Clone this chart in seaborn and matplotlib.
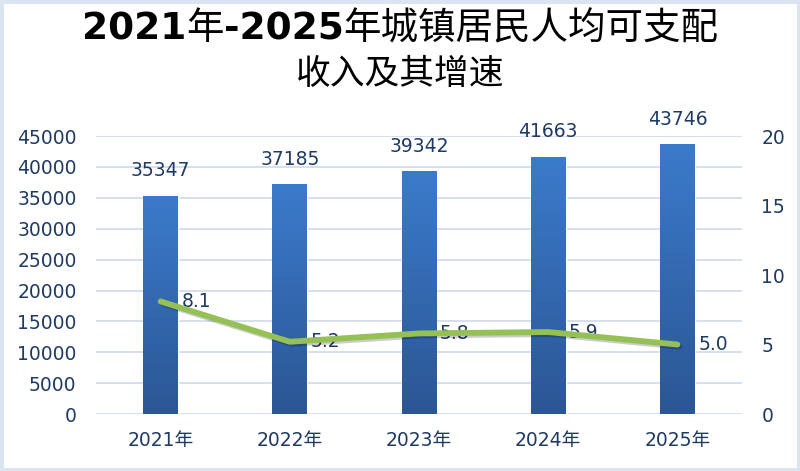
import numpy as np
import pandas as pd
import matplotlib
matplotlib.use("Agg")
import matplotlib.pyplot as plt
import matplotlib.patheffects as pe
from matplotlib.colors import LinearSegmentedColormap
from matplotlib.patches import Rectangle
import seaborn as sns

# data
years = ["2021年", "2022年", "2023年", "2024年", "2025年"]
income = [35347, 37185, 39342, 41663, 43746]
growth = [8.1, 5.2, 5.8, 5.9, 5.0]

sns.set_style("white")
plt.rcParams["font.family"] = ["DejaVu Sans", "Noto Sans CJK SC"]

navy = "#1f3a64"
grid_c = "#d3dcea"

df = pd.DataFrame({"year": years, "income": income, "growth": growth})

fig = plt.figure(figsize=(8, 4.71), dpi=100)
fig.patch.set_facecolor("white")
# light blue frame round the picture
fig.patches.append(Rectangle((0, 0), 1, 1, transform=fig.transFigure,
                             fill=False, edgecolor="#dbe5f1", linewidth=5, zorder=0))

ax = fig.add_axes([0.12, 0.121, 0.8075, 0.590])
sns.barplot(data=df, x="year", y="income", color="#3370bb", width=0.27,
            saturation=1, ax=ax, zorder=3)

# gradient fill on each bar
cmap = LinearSegmentedColormap.from_list("bar", ["#2b5694", "#3b7bcb"])
grad = np.linspace(0, 1, 256).reshape(-1, 1)
for p in ax.patches:
    x0, y0 = p.get_x(), p.get_y()
    w, h = p.get_width(), p.get_height()
    im = ax.imshow(grad, cmap=cmap, origin="lower", aspect="auto",
                   extent=[x0, x0 + w, y0, y0 + h], zorder=3.5)
    im.set_clip_path(p)
    ax.annotate(f"{int(h)}", (x0 + w / 2, h), xytext=(0, 11),
                textcoords="offset points", ha="center", va="bottom",
                fontsize=13.5, color=navy)

ax.set_xlim(-0.5, len(years) - 0.5)
ax.set_ylim(0, 45000)
ax.set_yticks(range(0, 45001, 5000))
ax.grid(axis="y", color=grid_c, linewidth=1.3, zorder=0)
ax.set_axisbelow(True)
for s in ax.spines.values():
    s.set_visible(False)
ax.set_xlabel("")
ax.set_ylabel("")
ax.tick_params(axis="both", length=0, labelsize=13.5, labelcolor=navy)
ax.tick_params(axis="y", pad=14)
ax.tick_params(axis="x", pad=12)

ax2 = ax.twinx()
pos = np.arange(len(years))
sns.lineplot(x=pos, y=growth, ax=ax2, color="#95c055", linewidth=4.2, zorder=5,
             path_effects=[pe.SimpleLineShadow(offset=(1.5, -1.5), alpha=0.2),
                           pe.Normal()])
for xi, g in zip(pos, growth):
    ax2.annotate(f"{g:.1f}", (xi, g), xytext=(15, 0), textcoords="offset points",
                 ha="left", va="center", fontsize=13.5, color=navy)
ax2.set_ylim(0, 20)
ax2.set_yticks([0, 5, 10, 15, 20])
for s in ax2.spines.values():
    s.set_visible(False)
ax2.tick_params(axis="y", length=0, labelsize=13.5, labelcolor=navy, pad=14)
ax2.set_ylabel("")

# title line 1: digits bold, Chinese characters regular weight
parts = [("2021", "bold"), ("年", "normal"), ("-2025", "bold"),
         ("年城镇居民人均可支配", "normal")]
renderer = fig.canvas.get_renderer()
texts = []
x = 0.0
for s, wgt in parts:
    t = fig.text(x, 0.938, s, ha="left", va="center", fontsize=27,
                 fontweight=wgt, color="black")
    bb = t.get_window_extent(renderer)
    texts.append(t)
    x += bb.width / fig.bbox.width
start = 0.5 - x / 2
x = start
for t in texts:
    t.set_x(x)
    x += t.get_window_extent(renderer).width / fig.bbox.width
fig.text(0.5, 0.842, "收入及其增速", ha="center", va="center",
         fontsize=25, color="black")

fig.savefig("out.png", dpi=100)
